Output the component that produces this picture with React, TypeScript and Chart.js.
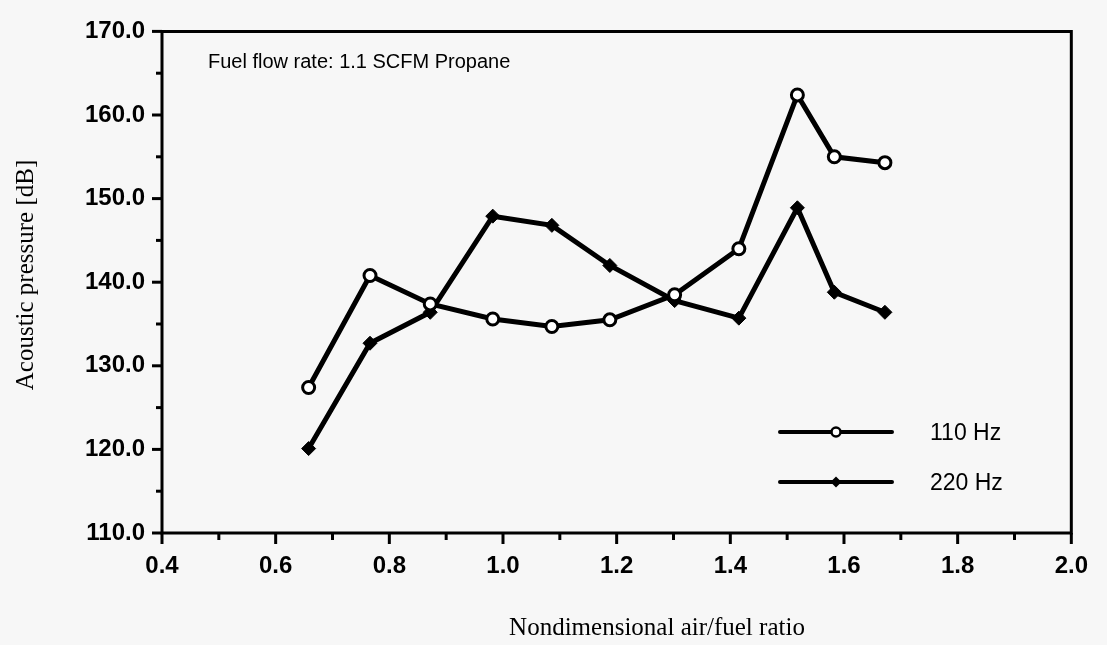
import { useEffect, useRef } from 'react';
import { Chart, registerables } from 'chart.js';

Chart.register(...registerables);

// Nondimensional air/fuel ratio at each measurement
const airFuelRatio = [0.658, 0.766, 0.872, 0.982, 1.086, 1.188, 1.302, 1.415, 1.518, 1.583, 1.672];
// Acoustic pressure [dB] of the 110 Hz mode
const pressure110Hz = [127.4, 140.8, 137.4, 135.6, 134.7, 135.5, 138.5, 144.0, 162.4, 155.0, 154.3];
// Acoustic pressure [dB] of the 220 Hz mode
const pressure220Hz = [120.1, 132.7, 136.4, 147.9, 146.8, 142.0, 137.8, 135.7, 148.9, 138.8, 136.4];

const seriesNames = ['110 Hz', '220 Hz'];
const noteText = 'Fuel flow rate: 1.1 SCFM Propane';
const xAxisTitle = 'Nondimensional air/fuel ratio';
const yAxisTitle = 'Acoustic pressure [dB]';

const xMin = 0.4;
const xMax = 2.0;
const xMajorStep = 0.2;
const yMin = 110;
const yMax = 170;
const yMajorStep = 10;

const INK = '#000000';
const PAPER = '#f7f7f7';
const SANS = '"Liberation Sans", Arial, Helvetica, sans-serif';
const SERIF = '"Liberation Serif", "Times New Roman", Times, serif';

// Frame, minor/major tick marks, note text, legend and axis titles
const decorations = {
  id: 'decorations',
  beforeDraw(chart: any) {
    const { ctx, width, height } = chart;
    ctx.save();
    ctx.fillStyle = PAPER;
    ctx.fillRect(0, 0, width, height);
    ctx.restore();
  },
  afterDraw(chart: any) {
    const { ctx, chartArea } = chart;
    const { left, right, top, bottom } = chartArea;
    const xs = chart.scales.x;
    const ys = chart.scales.y;
    ctx.save();
    ctx.strokeStyle = INK;
    ctx.lineCap = 'square';

    // frame
    ctx.lineWidth = 3;
    ctx.beginPath();
    ctx.moveTo(left, top);
    ctx.lineTo(right, top);
    ctx.lineTo(right, bottom);
    ctx.lineTo(left, bottom);
    ctx.closePath();
    ctx.stroke();

    // x ticks every 0.1, longer at labelled values
    ctx.lineWidth = 3;
    ctx.lineCap = 'butt';
    const xCount = Math.round((xMax - xMin) / 0.1);
    for (let i = 0; i <= xCount; i++) {
      const px = xs.getPixelForValue(xMin + i * 0.1);
      const len = i % 2 === 0 ? 11 : 7;
      ctx.beginPath();
      ctx.moveTo(px, bottom);
      ctx.lineTo(px, bottom + len);
      ctx.stroke();
    }
    // y ticks every 5 dB
    const yCount = Math.round((yMax - yMin) / 5);
    for (let i = 0; i <= yCount; i++) {
      const py = ys.getPixelForValue(yMin + i * 5);
      const len = i % 2 === 0 ? 10 : 6;
      ctx.beginPath();
      ctx.moveTo(left, py);
      ctx.lineTo(left - len, py);
      ctx.stroke();
    }

    // note
    ctx.fillStyle = INK;
    ctx.font = `20px ${SANS}`;
    ctx.textAlign = 'left';
    ctx.textBaseline = 'middle';
    ctx.fillText(noteText, 208, 62);

    // legend
    const legendX0 = 780;
    const legendX1 = 892;
    const legendYs = [432, 482];
    chart.data.datasets.forEach((ds: any, i: number) => {
      const y = legendYs[i];
      ctx.strokeStyle = INK;
      ctx.lineWidth = 4;
      ctx.lineCap = 'round';
      ctx.beginPath();
      ctx.moveTo(legendX0, y);
      ctx.lineTo(legendX1, y);
      ctx.stroke();
      const mx = (legendX0 + legendX1) / 2;
      ctx.beginPath();
      if (ds.pointStyle === 'circle') {
        ctx.arc(mx, y, 4.5, 0, Math.PI * 2);
        ctx.fillStyle = ds.pointBackgroundColor;
        ctx.fill();
        ctx.lineWidth = 2.5;
        ctx.stroke();
      } else {
        const r = 5.5;
        ctx.moveTo(mx, y - r);
        ctx.lineTo(mx + r, y);
        ctx.lineTo(mx, y + r);
        ctx.lineTo(mx - r, y);
        ctx.closePath();
        ctx.fillStyle = ds.pointBackgroundColor;
        ctx.fill();
      }
      ctx.fillStyle = INK;
      ctx.font = `23px ${SANS}`;
      ctx.textAlign = 'left';
      ctx.textBaseline = 'middle';
      ctx.fillText(ds.label, 930, y + 2);
    });

    // axis titles
    ctx.fillStyle = INK;
    ctx.font = `25px ${SERIF}`;
    ctx.textAlign = 'center';
    ctx.textBaseline = 'middle';
    ctx.fillText(xAxisTitle, 657, 628);
    ctx.translate(26, 275);
    ctx.rotate(-Math.PI / 2);
    ctx.fillText(yAxisTitle, 0, 0);
    ctx.restore();
  },
};

export default function App() {
  const canvasRef = useRef<HTMLCanvasElement | null>(null);

  useEffect(() => {
    const canvas = canvasRef.current;
    if (!canvas) return;
    const points = (ys: number[]) => airFuelRatio.map((x, i) => ({ x, y: ys[i] }));
    const tickFont = { family: SANS, size: 24, weight: 'bold' as const };

    const chart = new Chart(canvas, {
      type: 'line',
      data: {
        datasets: [
          {
            label: seriesNames[0],
            data: points(pressure110Hz),
            borderColor: INK,
            borderWidth: 5,
            pointStyle: 'circle',
            pointRadius: 6,
            pointBorderWidth: 3,
            pointBorderColor: INK,
            pointBackgroundColor: '#ffffff',
            tension: 0,
          },
          {
            label: seriesNames[1],
            data: points(pressure220Hz),
            borderColor: INK,
            borderWidth: 5,
            pointStyle: 'rectRot',
            pointRadius: 7,
            pointBorderWidth: 1,
            pointBorderColor: INK,
            pointBackgroundColor: INK,
            tension: 0,
          },
        ],
      },
      options: {
        animation: false,
        responsive: false,
        devicePixelRatio: 1,
        layout: { padding: { top: 22, right: 31, left: 0, bottom: 0 } },
        plugins: {
          legend: { display: false },
          tooltip: { enabled: false },
          title: { display: false },
        },
        scales: {
          x: {
            type: 'linear',
            min: xMin,
            max: xMax,
            afterFit: (s: any) => {
              s.height = 112;
            },
            grid: { display: false, drawTicks: false },
            border: { display: false },
            ticks: {
              stepSize: xMajorStep,
              padding: 19,
              color: INK,
              font: tickFont,
              maxRotation: 0,
              autoSkip: false,
              callback: (v: any) => Number(v).toFixed(1),
            },
          },
          y: {
            type: 'linear',
            min: yMin,
            max: yMax,
            afterFit: (s: any) => {
              s.width = 162;
            },
            grid: { display: false, drawTicks: false },
            border: { display: false },
            ticks: {
              stepSize: yMajorStep,
              padding: 17,
              color: INK,
              font: tickFont,
              autoSkip: false,
              callback: (v: any) => Number(v).toFixed(1),
            },
          },
        },
      },
      plugins: [decorations],
    });

    return () => chart.destroy();
  }, []);

  return (
    <div style={{ position: 'absolute', left: 0, top: 0, width: 1107, height: 645, background: PAPER }}>
      <canvas ref={canvasRef} width={1107} height={645} style={{ display: 'block' }} />
    </div>
  );
}
